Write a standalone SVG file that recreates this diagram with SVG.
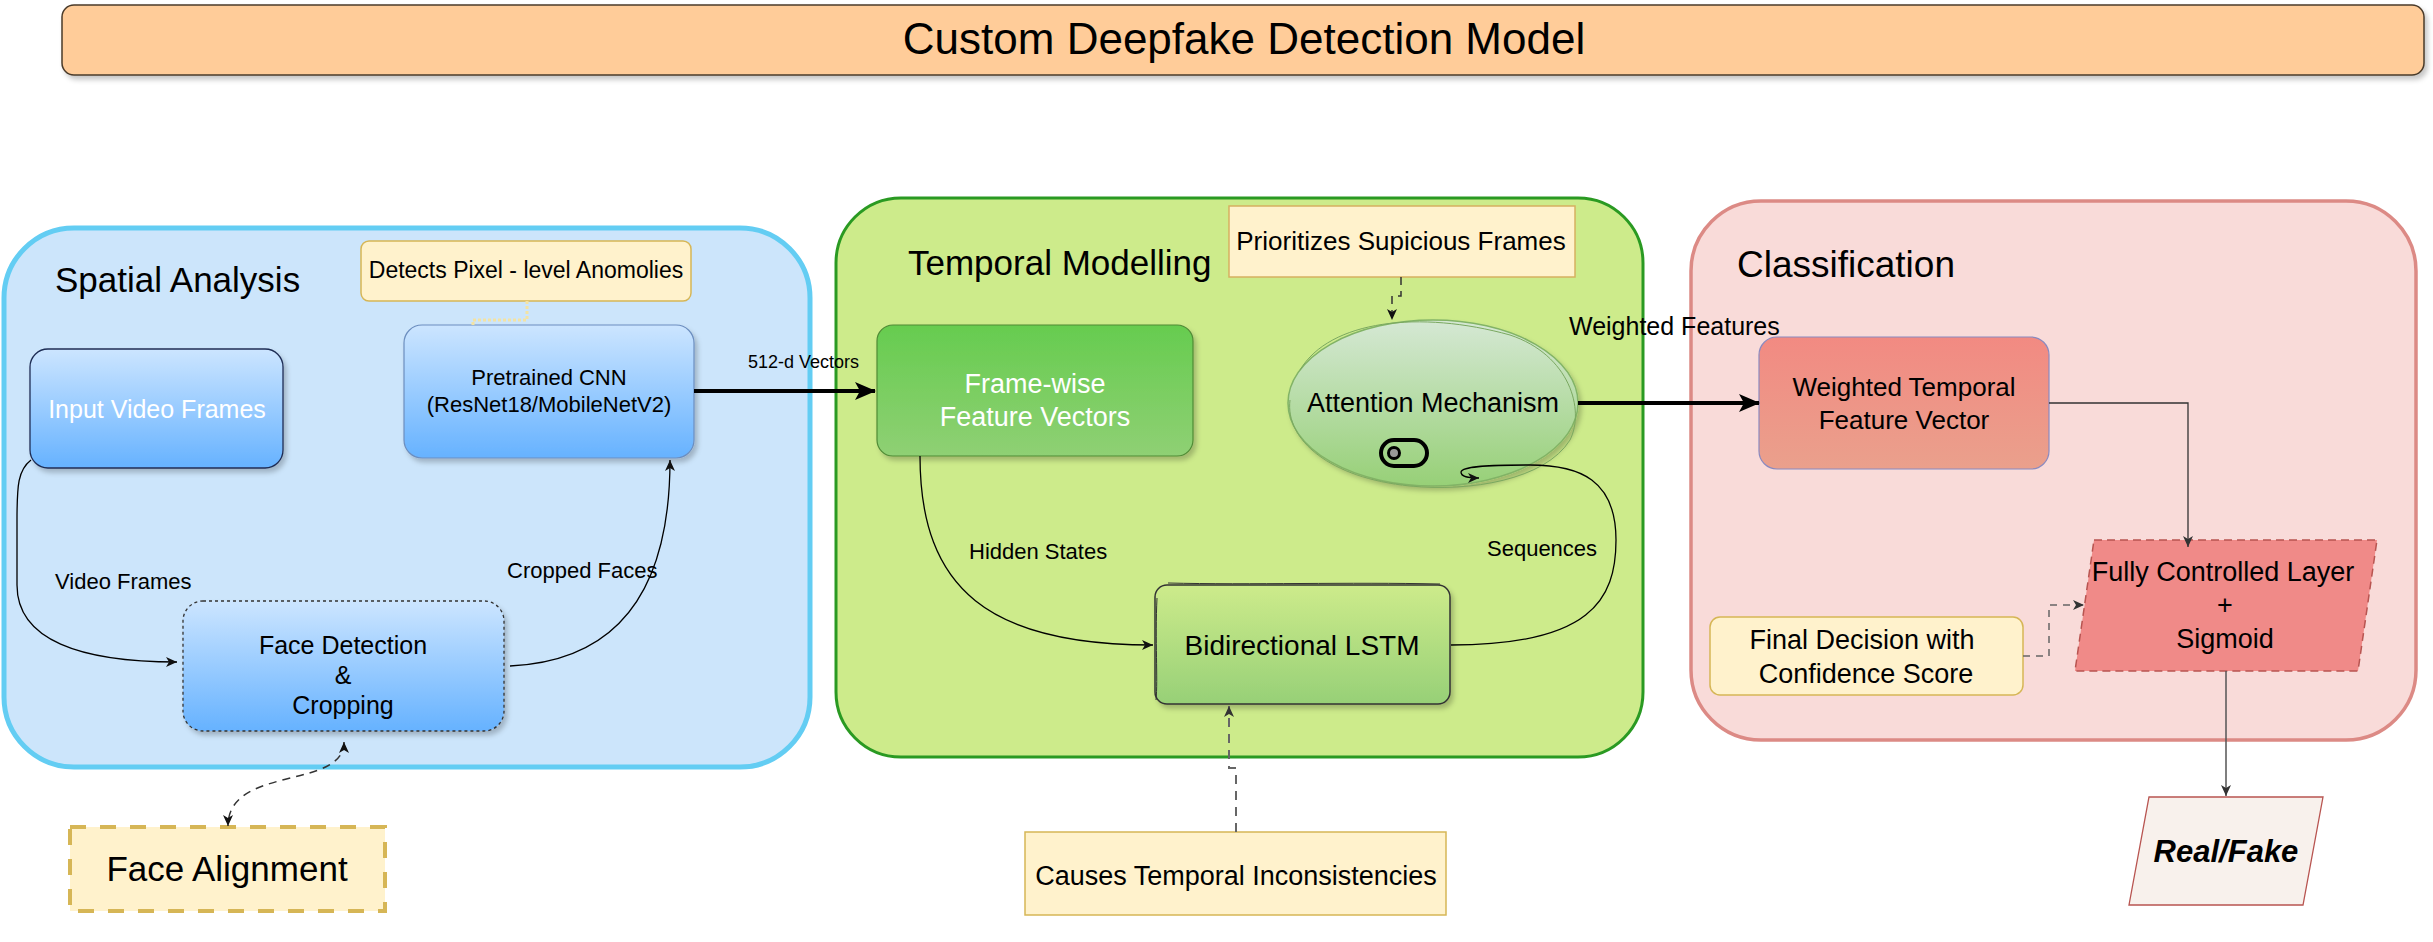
<svg xmlns="http://www.w3.org/2000/svg" width="2433" height="942" viewBox="0 0 2433 942">
<defs>
<style>
text{font-family:"Liberation Sans",Arial,Helvetica,sans-serif;fill:#000}
.c{text-anchor:middle}
.w{fill:#fff}
.note{fill:#fff2cc;stroke:#d6b656;stroke-width:1.5}
.thin{fill:none;stroke:#000;stroke-width:1.3}
.dash{fill:none;stroke:#333;stroke-width:1.5;stroke-dasharray:8 6}
.thick{fill:none;stroke:#000;stroke-width:4}
</style>
<linearGradient id="gBlue" x1="0" y1="0" x2="0" y2="1"><stop offset="0" stop-color="#cce5ff"/><stop offset="1" stop-color="#66b2ff"/></linearGradient>
<linearGradient id="gFrame" x1="0" y1="0" x2="0" y2="1"><stop offset="0" stop-color="#66cc4f"/><stop offset="1" stop-color="#8fd074"/></linearGradient>
<linearGradient id="gLstm" x1="0" y1="0" x2="0" y2="1"><stop offset="0" stop-color="#cdeb8b"/><stop offset="1" stop-color="#97d077"/></linearGradient>
<linearGradient id="gAtt" x1="0" y1="0" x2="0" y2="1"><stop offset="0" stop-color="#d5e8d4"/><stop offset="1" stop-color="#97d077"/></linearGradient>
<linearGradient id="gRed" x1="0" y1="0" x2="0" y2="1"><stop offset="0" stop-color="#f28a82"/><stop offset="1" stop-color="#eaa08c"/></linearGradient>
<filter id="sh" x="-10%" y="-10%" width="130%" height="140%"><feDropShadow dx="3" dy="4" stdDeviation="2.5" flood-color="#000" flood-opacity="0.22"/></filter>
<marker id="aBig" markerUnits="userSpaceOnUse" markerWidth="22" markerHeight="18" refX="20" refY="9" orient="auto"><path d="M0,0 L21,9 L0,18 L5,9 z" fill="#000"/></marker>
<marker id="aSm" markerUnits="userSpaceOnUse" markerWidth="12" markerHeight="10" refX="11" refY="5" orient="auto-start-reverse"><path d="M0,0 L11,5 L0,10 L3,5 z" fill="#111"/></marker>
<marker id="aGr" markerUnits="userSpaceOnUse" markerWidth="12" markerHeight="10" refX="11" refY="5" orient="auto"><path d="M0,0 L11,5 L0,10 L3,5 z" fill="#333"/></marker>
</defs>

<g id="title">
<rect x="62" y="5" width="2362" height="70" rx="12" fill="#ffcc99" stroke="#4a3a2a" stroke-width="1.5" filter="url(#sh)"/>
<text x="1244" y="54" class="c" font-size="44">Custom Deepfake Detection Model</text>
</g>

<g id="spatial-analysis">
<rect x="4" y="228" width="806" height="539" rx="70" fill="#cce5fb" stroke="#63cdf3" stroke-width="5"/>
<text x="55" y="292" font-size="35">Spatial Analysis</text>
</g>

<g id="temporal-modelling">
<rect x="836" y="198" width="807" height="559" rx="65" fill="#cdeb8b" stroke="#2a9a22" stroke-width="3"/>
<text x="908" y="275" font-size="35">Temporal Modelling</text>
</g>

<g id="classification">
<rect x="1691" y="201" width="725" height="539" rx="70" fill="#f9dbd9" stroke="#dc8a85" stroke-width="3.5"/>
<text x="1737" y="277" font-size="37">Classification</text>
</g>

<g id="detects-pixel">
<rect x="361" y="241" width="330" height="60" rx="8" class="note"/>
<text x="526" y="278" class="c" font-size="23">Detects Pixel - level Anomolies</text>
</g>

<g id="input-video-frames">
<rect x="30" y="349" width="253" height="119" rx="18" fill="url(#gBlue)" stroke="#1f2d55" stroke-width="1.3" filter="url(#sh)"/>
<text x="157" y="418" class="c w" font-size="25">Input Video Frames</text>
</g>

<g id="pretrained-cnn">
<rect x="404" y="325" width="290" height="133" rx="18" fill="url(#gBlue)" stroke="#6c8ebf" stroke-width="1.2" filter="url(#sh)"/>
<text x="549" y="385" class="c" font-size="22">Pretrained CNN</text>
<text x="549" y="412" class="c" font-size="22">(ResNet18/MobileNetV2)</text>
</g>

<g id="face-detection">
<rect x="183" y="601" width="321" height="130" rx="20" fill="url(#gBlue)" stroke="#333" stroke-width="1.3" stroke-dasharray="3 3" filter="url(#sh)"/>
<text x="343" y="654" class="c" font-size="25">Face Detection</text>
<text x="343" y="684" class="c" font-size="25">&amp;</text>
<text x="343" y="714" class="c" font-size="25">Cropping</text>
</g>

<g id="face-alignment">
<rect x="70" y="827" width="315" height="84" fill="#fff2cc" stroke="#d6b656" stroke-width="4" stroke-dasharray="16 14"/>
<text x="227" y="881" class="c" font-size="35">Face Alignment</text>
</g>

<g id="prioritizes">
<rect x="1229" y="206" width="346" height="71" fill="#fff2cc" stroke="#d6b060" stroke-width="1.5"/>
<text x="1401" y="250" class="c" font-size="26">Prioritizes Supicious Frames</text>
</g>

<g id="frame-wise">
<rect x="877" y="325" width="316" height="131" rx="16" fill="url(#gFrame)" stroke="#4f8a35" stroke-width="1.2" filter="url(#sh)"/>
<text x="1035" y="393" class="c w" font-size="27">Frame-wise</text>
<text x="1035" y="426" class="c w" font-size="27">Feature Vectors</text>
</g>

<g id="attention">
<ellipse cx="1433" cy="403" rx="145" ry="83" fill="url(#gAtt)" stroke="#82b366" stroke-width="1.5" filter="url(#sh)"/>
<path d="M1300,370 C1330,320 1420,310 1510,335 C1570,355 1585,410 1570,440 C1545,480 1470,492 1410,486 C1330,478 1285,440 1290,400" fill="none" stroke="#7aa860" stroke-width="1"/>
<text x="1433" y="412" class="c" font-size="27">Attention Mechanism</text>
<rect x="1381" y="440" width="46" height="26" rx="13" fill="none" stroke="#000" stroke-width="4"/>
<circle cx="1394" cy="453" r="5.5" fill="#999" stroke="#000" stroke-width="3"/>
</g>

<g id="bidirectional-lstm">
<rect x="1155" y="585" width="295" height="119" rx="12" fill="url(#gLstm)" stroke="#333" stroke-width="1.5" filter="url(#sh)"/>
<path d="M1168,583 C1250,585 1350,582 1440,584 M1157,598 C1155,640 1158,680 1156,700" fill="none" stroke="#333" stroke-width="1"/>
<text x="1302" y="655" class="c" font-size="28">Bidirectional LSTM</text>
</g>

<g id="causes-temporal">
<rect x="1025" y="832" width="421" height="83" class="note"/>
<text x="1236" y="885" class="c" font-size="27">Causes Temporal Inconsistencies</text>
</g>

<g id="weighted-temporal">
<rect x="1759" y="337" width="290" height="132" rx="18" fill="url(#gRed)" stroke="#8a8ac0" stroke-width="1.2"/>
<text x="1904" y="396" class="c" font-size="26">Weighted Temporal</text>
<text x="1904" y="429" class="c" font-size="26">Feature Vector</text>
</g>

<g id="fully-connected">
<polygon points="2094,540 2377,540 2358,671 2075,671" fill="#f08a88" stroke="#b85450" stroke-width="1.5" stroke-dasharray="8 5"/>
<text x="2223" y="581" class="c" font-size="27">Fully Controlled Layer</text>
<text x="2225" y="614" class="c" font-size="27">+</text>
<text x="2225" y="648" class="c" font-size="27">Sigmoid</text>
</g>

<g id="final-decision">
<rect x="1710" y="617" width="313" height="78" rx="10" class="note"/>
<text x="1862" y="649" class="c" font-size="27">Final Decision with</text>
<text x="1866" y="683" class="c" font-size="27">Confidence Score</text>
</g>

<g id="real-fake">
<polygon points="2149,797 2323,797 2303,905 2129,905" fill="#f8f1ec" stroke="#b85450" stroke-width="1.3"/>
<text x="2226" y="862" class="c" font-size="31" font-weight="bold" font-style="italic">Real/Fake</text>
</g>

<g id="connectors">
<path d="M527,301 V320 H473 V325" fill="none" stroke="#f3e3a4" stroke-width="3" stroke-dasharray="3 2"/>
<path d="M31,460 C18,470 17,485 17,520 L17,585 C17,640 80,662 177,662" class="thin" marker-end="url(#aSm)"/>
<path d="M510,666 C640,660 670,560 670,460" class="thin" marker-end="url(#aSm)"/>
<path d="M344,742 C344,790 228,765 228,826" class="dash" stroke-dasharray="7 6" marker-start="url(#aSm)" marker-end="url(#aSm)"/>
<path d="M694,391 H875" class="thick" marker-end="url(#aBig)"/>
<path d="M920,456 C920,590 990,645 1153,645" class="thin" marker-end="url(#aSm)"/>
<path d="M1451,645 C1590,645 1616,600 1616,540 C1616,480 1580,465 1530,465 C1490,465 1462,466 1461,472 C1461,477 1468,478 1479,478" class="thin" marker-end="url(#aSm)"/>
<path d="M1401,277 V296 H1392 V320" class="dash" stroke-dasharray="7 5" marker-end="url(#aSm)"/>
<path d="M1236,832 V768 H1229 V706" fill="none" stroke="#666" stroke-width="2" stroke-dasharray="9 7" marker-end="url(#aGr)"/>
<path d="M1578,403 H1759" class="thick" marker-end="url(#aBig)"/>
<path d="M2049,403 H2188 V547" fill="none" stroke="#333" stroke-width="1.3" marker-end="url(#aGr)"/>
<path d="M2023,656 H2049 V605 H2084" fill="none" stroke="#666" stroke-width="1.5" stroke-dasharray="7 6" marker-end="url(#aGr)"/>
<path d="M2226,671 V796" fill="none" stroke="#555" stroke-width="1.5" marker-end="url(#aGr)"/>
<text x="748" y="368" font-size="18">512-d Vectors</text>
<text x="55" y="589" font-size="22">Video Frames</text>
<text x="507" y="578" font-size="22">Cropped Faces</text>
<text x="969" y="559" font-size="22">Hidden States</text>
<text x="1487" y="556" font-size="22">Sequences</text>
<text x="1569" y="335" font-size="25">Weighted Features</text>
</g>
</svg>
